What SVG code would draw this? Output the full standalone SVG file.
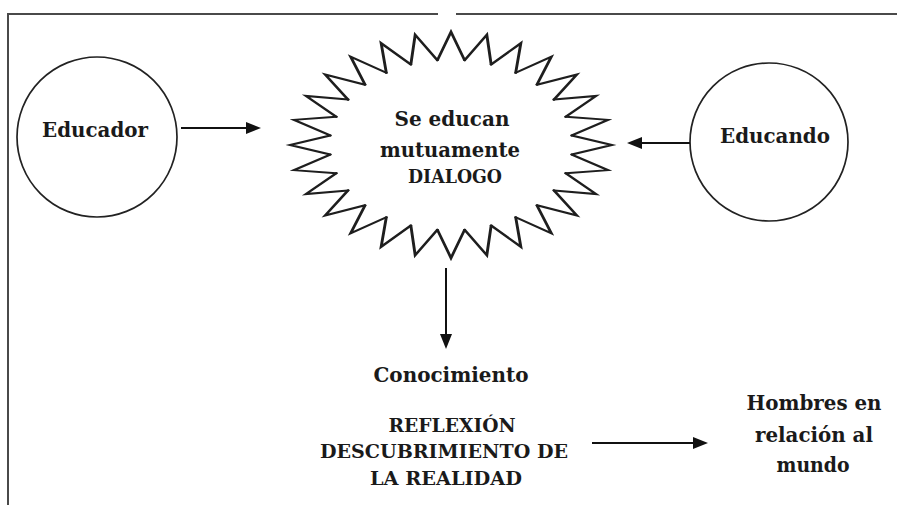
<svg xmlns="http://www.w3.org/2000/svg" xmlns:xlink="http://www.w3.org/1999/xlink" width="897" height="505" viewBox="0 0 897 505">
<style>
  .frame { stroke: #4a4a4a; stroke-width: 2; fill: none; }
  .node { fill: #ffffff; stroke: #222222; stroke-width: 1.7; }
  .spike { fill: none; stroke: #1e1e1e; stroke-width: 1.8; stroke-linejoin: miter; stroke-linecap: round; vector-effect: non-scaling-stroke; }
  .edge { stroke: #111111; stroke-width: 2; fill: none; }
  .head { fill: #111111; }
  text { font-family: "DejaVu Serif", "Liberation Serif", serif; font-weight: bold; fill: #1a1a1a; text-anchor: middle; }
  .t21 { font-size: 21px; }
  .t18 { font-size: 18px; }
</style>
<defs>
  <path id="spk" d="M-8.45,-75.03 L0,-100 L8.45,-75.03"/>
</defs>
<rect x="0" y="0" width="897" height="505" fill="#ffffff"/>
<g id="frame">
  <line class="frame" x1="7" y1="14" x2="438" y2="14"/>
  <line class="frame" x1="456" y1="14" x2="897" y2="14"/>
  <line class="frame" x1="8" y1="13" x2="8" y2="505"/>
</g>
<g id="educador">
  <circle class="node" cx="97" cy="137" r="80"/>
  <text class="t21" x="95" y="137" textLength="106" lengthAdjust="spacingAndGlyphs">Educador</text>
</g>
<g id="educando">
  <circle class="node" cx="769" cy="142" r="79"/>
  <text class="t21" x="775" y="143" textLength="110" lengthAdjust="spacingAndGlyphs">Educando</text>
</g>
<g id="dialogo">
  <g transform="translate(451,145) scale(1.61,1.13)" class="spike">
    <use xlink:href="#spk" transform="rotate(0)"/>
    <use xlink:href="#spk" transform="rotate(12.857)"/>
    <use xlink:href="#spk" transform="rotate(25.714)"/>
    <use xlink:href="#spk" transform="rotate(38.571)"/>
    <use xlink:href="#spk" transform="rotate(51.429)"/>
    <use xlink:href="#spk" transform="rotate(64.286)"/>
    <use xlink:href="#spk" transform="rotate(77.143)"/>
    <use xlink:href="#spk" transform="rotate(90)"/>
    <use xlink:href="#spk" transform="rotate(102.857)"/>
    <use xlink:href="#spk" transform="rotate(115.714)"/>
    <use xlink:href="#spk" transform="rotate(128.571)"/>
    <use xlink:href="#spk" transform="rotate(141.429)"/>
    <use xlink:href="#spk" transform="rotate(154.286)"/>
    <use xlink:href="#spk" transform="rotate(167.143)"/>
    <use xlink:href="#spk" transform="rotate(180)"/>
    <use xlink:href="#spk" transform="rotate(192.857)"/>
    <use xlink:href="#spk" transform="rotate(205.714)"/>
    <use xlink:href="#spk" transform="rotate(218.571)"/>
    <use xlink:href="#spk" transform="rotate(231.429)"/>
    <use xlink:href="#spk" transform="rotate(244.286)"/>
    <use xlink:href="#spk" transform="rotate(257.143)"/>
    <use xlink:href="#spk" transform="rotate(270)"/>
    <use xlink:href="#spk" transform="rotate(282.857)"/>
    <use xlink:href="#spk" transform="rotate(295.714)"/>
    <use xlink:href="#spk" transform="rotate(308.571)"/>
    <use xlink:href="#spk" transform="rotate(321.429)"/>
    <use xlink:href="#spk" transform="rotate(334.286)"/>
    <use xlink:href="#spk" transform="rotate(347.143)"/>
  </g>
  <text class="t21" x="452" y="126" textLength="115" lengthAdjust="spacingAndGlyphs">Se educan</text>
  <text class="t21" x="450" y="157" textLength="140" lengthAdjust="spacingAndGlyphs">mutuamente</text>
  <text class="t18" x="455" y="183" textLength="94" lengthAdjust="spacingAndGlyphs">DIALOGO</text>
</g>
<g id="conocimiento">
  <text class="t21" x="451" y="382" textLength="155" lengthAdjust="spacingAndGlyphs">Conocimiento</text>
</g>
<g id="reflexion">
  <text class="t18" x="452" y="432" textLength="127" lengthAdjust="spacingAndGlyphs">REFLEXIÓN</text>
  <text class="t18" x="444" y="458" textLength="248" lengthAdjust="spacingAndGlyphs">DESCUBRIMIENTO DE</text>
  <text class="t18" x="446" y="485" textLength="152" lengthAdjust="spacingAndGlyphs">LA REALIDAD</text>
</g>
<g id="hombres">
  <text class="t21" x="814" y="410" textLength="135" lengthAdjust="spacingAndGlyphs">Hombres en</text>
  <text class="t21" x="814" y="442" textLength="118" lengthAdjust="spacingAndGlyphs">relación al</text>
  <text class="t21" x="813" y="472" textLength="73" lengthAdjust="spacingAndGlyphs">mundo</text>
</g>
<g id="connectors">
  <line class="edge" x1="181" y1="128" x2="248" y2="128"/>
  <polygon class="head" points="261,128 246,122 246,134"/>
  <line class="edge" x1="690" y1="143" x2="640" y2="143"/>
  <polygon class="head" points="627,143 642,137 642,149"/>
  <line class="edge" x1="446" y1="268" x2="446" y2="336"/>
  <polygon class="head" points="446,349 440,334 452,334"/>
  <line class="edge" x1="592" y1="443" x2="695" y2="443"/>
  <polygon class="head" points="708,443 693,437 693,449"/>
</g>
</svg>
